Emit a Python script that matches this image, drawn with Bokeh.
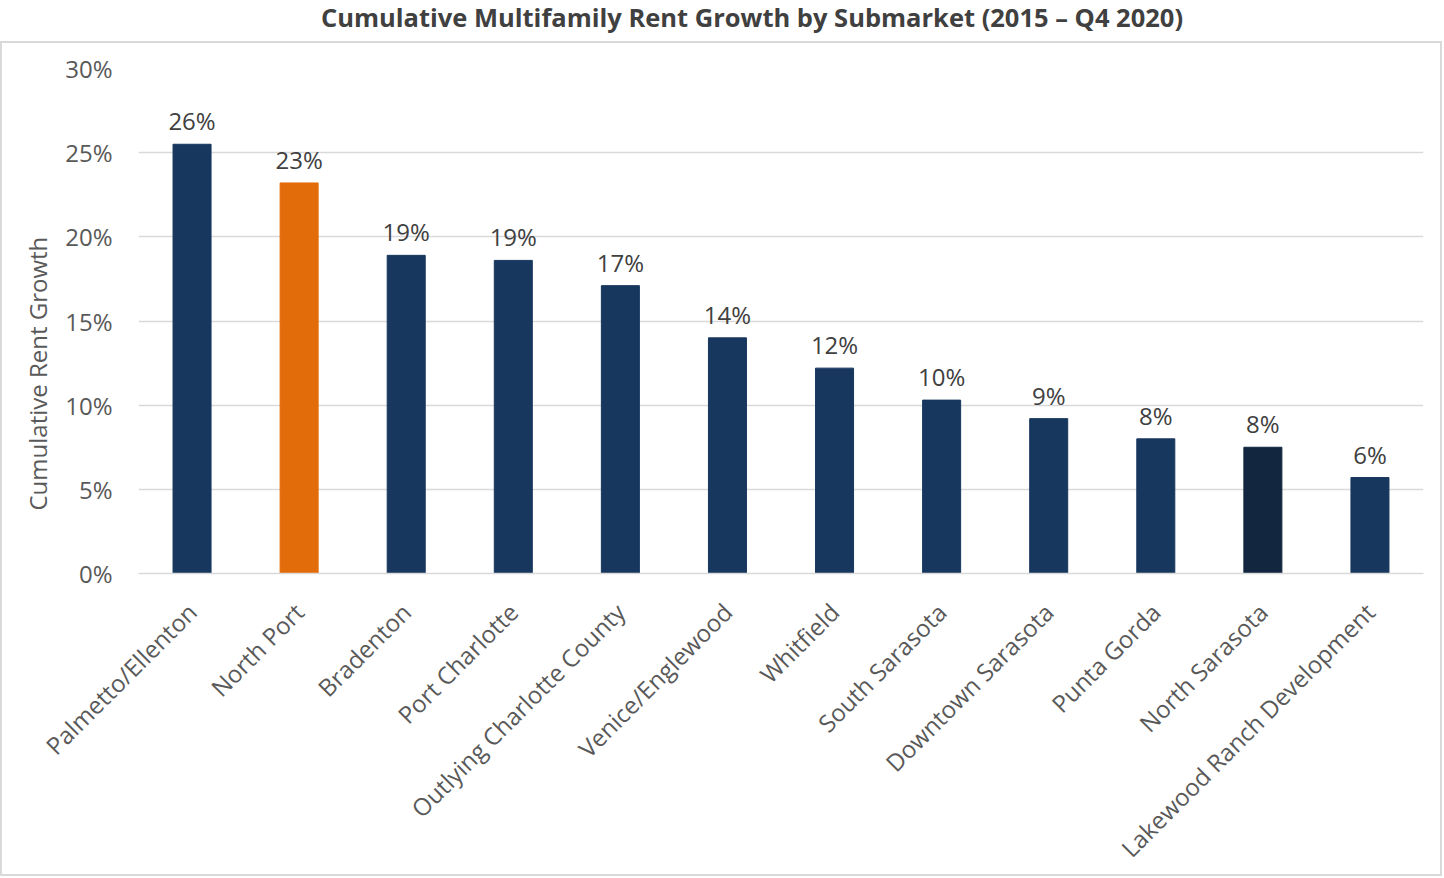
import math
from bokeh.plotting import figure
from bokeh.models import ColumnDataSource, FactorRange, NumeralTickFormatter, Div, FixedTicker, Title
from bokeh.layouts import column
from bokeh.core.properties import value
from bokeh.embed import file_html
from bokeh.resources import INLINE

submarkets = ["Palmetto/Ellenton", "North Port", "Bradenton", "Port Charlotte",
              "Outlying Charlotte County", "Venice/Englewood", "Whitfield",
              "South Sarasota", "Downtown Sarasota", "Punta Gorda", "North Sarasota",
              "Lakewood Ranch Development"]
growth_pct = [25.5, 23.2, 18.9, 18.6, 17.1, 14.0, 12.2, 10.3, 9.2, 8.0, 7.5, 5.7]
bar_colors = ["#17375E", "#E36C0A", "#17375E", "#17375E", "#17375E", "#17375E",
              "#17375E", "#17375E", "#17375E", "#17375E", "#12263F", "#17375E"]
y_ticks = [0, 5, 10, 15, 20, 25, 30]

FONT = "Open Sans"
labels = [f"{math.floor(v + 0.5)}%" for v in growth_pct]

src = ColumnDataSource(dict(x=submarkets, y=growth_pct, c=bar_colors, lab=labels))

p = figure(x_range=FactorRange(*submarkets, range_padding=0), y_range=(0, 30),
           width=1442, height=835, output_backend="svg", toolbar_location=None,
           min_border_left=136, min_border_right=21, min_border_top=25,
           min_border_bottom=200)
p.outline_line_color = None
p.vbar(x="x", top="y", width=0.355, color="c", source=src)
p.text(x="x", y="y", text="lab", source=src, text_align="center",
       text_baseline="bottom", y_offset=-7, text_font=value(FONT),
       text_font_size="24px", text_color="#404040")

p.xgrid.grid_line_color = None
p.ygrid.grid_line_color = "#D9D9D9"
p.ygrid.grid_line_width = 1.5

p.yaxis.ticker = FixedTicker(ticks=y_ticks)
p.yaxis.formatter = NumeralTickFormatter(format="0")
p.yaxis.major_label_overrides = {t: f"{t}%" for t in y_ticks}
p.yaxis.axis_line_color = None
p.yaxis.major_tick_line_color = None
p.yaxis.minor_tick_line_color = None
p.yaxis.major_label_standoff = 20

ytitle = Title(text="Cumulative Rent Growth", align="left", offset=63,
               standoff=17, text_font=FONT, text_font_size="24px",
               text_font_style="normal", text_color="#595959")
p.add_layout(ytitle, "left")

p.xaxis.axis_line_color = "#D9D9D9"
p.xaxis.axis_line_width = 1.5
p.xaxis.major_tick_line_color = None
p.xaxis.minor_tick_line_color = None
p.xaxis.major_label_orientation = math.pi / 4
p.xaxis.major_label_standoff = 28

for ax in (p.xaxis, p.yaxis):
    ax.major_label_text_font = FONT
    ax.major_label_text_font_size = "24px"
    ax.major_label_text_color = "#595959"

p.styles = {"border": "2px solid #D9D9D9", "box-sizing": "border-box"}

title = Div(text="Cumulative Multifamily Rent Growth by Submarket (2015 – Q4 2020)",
            width=1444, height=41, margin=0,
            styles={"font-family": FONT, "font-size": "25.5px", "font-weight": "bold",
                    "color": "#404040", "text-align": "center", "width": "1444px",
                    "line-height": "34px", "padding-left": "60px",
                    "box-sizing": "border-box"})

layout = column(title, p, spacing=0)
open("out.html", "w").write(file_html(layout, INLINE))
